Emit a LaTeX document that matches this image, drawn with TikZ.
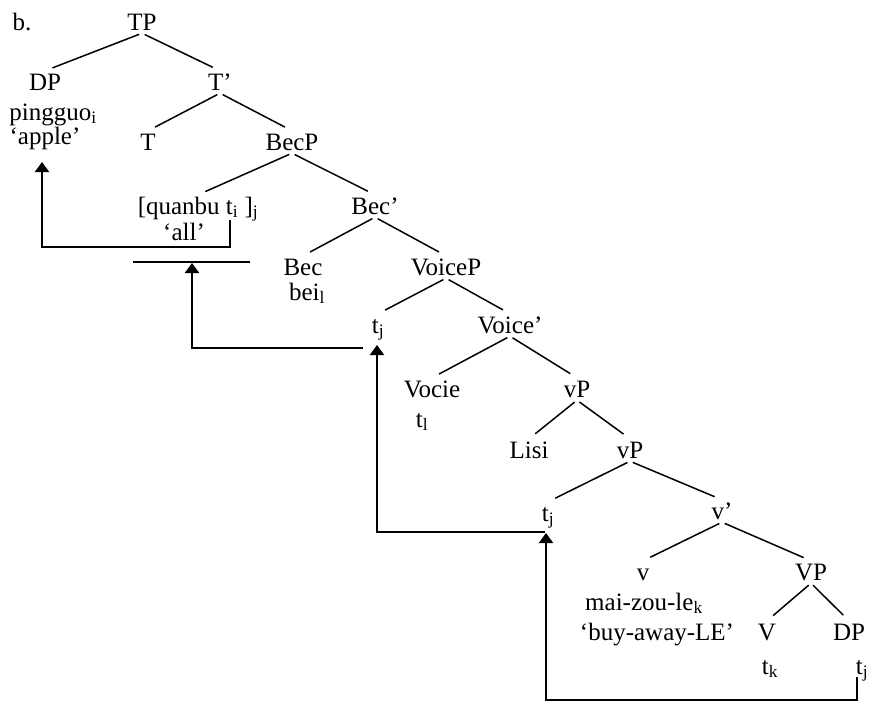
\documentclass[tikz,border=0pt]{standalone}
\usepackage{fontspec}
\setmainfont{Liberation Serif}
\usetikzlibrary{arrows.meta}
\begin{document}
\begin{tikzpicture}[x=1pt,y=-1pt,>={Triangle[width=14pt,length=10pt]},
	every node/.style={font=\fontsize{25}{29}\selectfont,anchor=base,inner sep=0pt},
	cat/.style={text height=16pt,text depth=0pt,inner ysep=3pt},
	branch/.style={line width=1.5pt,shorten <=3pt,shorten >=8pt},
	move/.style={line width=2pt}]
		\useasboundingbox (0,0) rectangle (871,702);
		\node (lbl) at (22,30) {b.};
		% categories
		\node[cat] (tp) at (142,30) {TP};
		\node[cat] (dp) at (45,90) {DP};
		\node[cat] (tbar) at (220,90) {T’};
		\node[cat] (t) at (148,150) {T};
		\node[cat] (becp) at (292,150) {BecP};
		\node[cat] (quanbu) at (198,214) {[quanbu t\textsubscript{i} ]\textsubscript{j}};
		\node[cat] (becbar) at (375,214) {Bec’};
		\node[cat] (bec) at (303,275) {Bec};
		\node[cat] (voicep) at (446,275) {VoiceP};
		\node[cat] (tja) at (378,333) {t\textsubscript{j}};
		\node[cat] (voicebar) at (510,333) {Voice’};
		\node[cat] (vocie) at (432,397) {Vocie};
		\node[cat] (vpa) at (577,397) {vP};
		\node[cat] (lisi) at (529,458) {Lisi};
		\node[cat] (vpb) at (630,458) {vP};
		\node[cat] (tjb) at (548,521) {t\textsubscript{j}};
		\node[cat] (vbar) at (722,519) {v’};
		\node[cat] (lv) at (643,580) {v};
		\node[cat] (bigvp) at (811,580) {VP};
		\node[cat] (bigv) at (767,640) {V};
		\node[cat] (dpb) at (849,640) {DP};
		% words
		\node (pingguo) at (53,120) {pingguo\textsubscript{i}};
		\node (apple) at (45,144) {‘apple’};
		\node (all) at (184,240) {‘all’};
		\node (bei) at (307,300) {bei\textsubscript{l}};
		\node (tl) at (422,427) {t\textsubscript{l}};
		\node (maizou) at (644,610) {mai-zou-le\textsubscript{k}};
		\node (buy) at (657,640) {‘buy-away-LE’};
		\node (tk) at (770,674) {t\textsubscript{k}};
		\node (tjc) at (862,674) {t\textsubscript{j}};
		% branches
		\draw[branch] (tp.south) -- (dp.north);
		\draw[branch] (tp.south) -- (tbar.north);
		\draw[branch] (tbar.south) -- (t.north);
		\draw[branch] (tbar.south) -- (becp.north);
		\draw[branch] (becp.south) -- (quanbu.north);
		\draw[branch] (becp.south) -- (becbar.north);
		\draw[branch] (becbar.south) -- (bec.north);
		\draw[branch] (becbar.south) -- (voicep.north);
		\draw[branch] (voicep.south) -- (tja.north);
		\draw[branch] (voicep.south) -- (voicebar.north);
		\draw[branch] (voicebar.south) -- (vocie.north);
		\draw[branch] (voicebar.south) -- (vpa.north);
		\draw[branch] (vpa.south) -- (lisi.north);
		\draw[branch] (vpa.south) -- (vpb.north);
		\draw[branch] (vpb.south) -- (tjb.north);
		\draw[branch] (vpb.south) -- (vbar.north);
		\draw[branch] (vbar.south) -- (lv.north);
		\draw[branch] (vbar.south) -- (bigvp.north);
		\draw[branch] (bigvp.south) -- (bigv.north);
		\draw[branch] (bigvp.south) -- (dpb.north);
		% movement
		\coordinate (ma) at (230,220);
		\coordinate (mb) at (42,247);
		\coordinate (mtipa) at (42,162);
		\coordinate (bara) at (133,262);
		\coordinate (barb) at (250,262);
		\coordinate (mc) at (363,348);
		\coordinate (mtipb) at (192,263);
		\coordinate (md) at (545,532);
		\coordinate (mtipc) at (377,345);
		\coordinate (me) at (857,677);
		\coordinate (mf) at (857,700);
		\coordinate (mtipd) at (546,533);
		\draw[move,->] (ma) |- (mb) -- (mtipa);
		\draw[line width=1.5pt] (bara) -- (barb);
		\draw[move,->] (mc) -| (mtipb);
		\draw[move,->] (md) -| (mtipc);
		\draw[move,->] (me) -- (mf) -| (mtipd);
		
		\end{tikzpicture}
\end{document}
